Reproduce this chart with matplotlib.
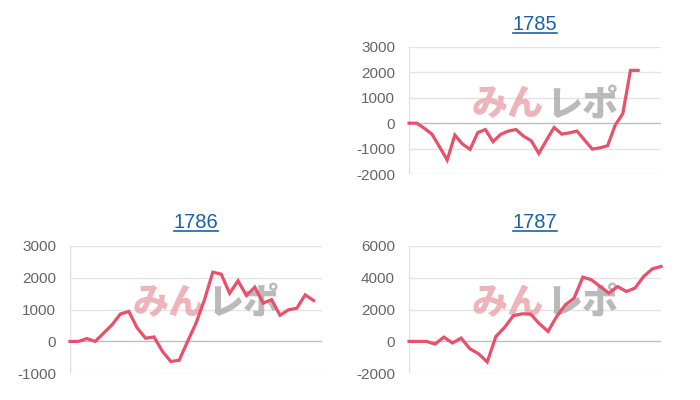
import matplotlib.pyplot as plt
from matplotlib.lines import Line2D

plt.rcParams['font.family'] = ['Liberation Sans', 'DejaVu Sans']

# daily balance per year
titles = ['1785', '1786', '1787']
vals_1785 = [0, 0, -200, -430, -930, -1450, -470, -820, -1030, -370, -250, -730, -440,
             -310, -250, -510, -690, -1190, -670, -170, -430, -380, -310, -670, -1020,
             -970, -890, -80, 380, 2080, 2080]
vals_1786 = [0, 0, 90, 0, 260, 520, 860, 940, 420, 100, 140, -310, -630, -590, 0, 570,
             1300, 2170, 2110, 1510, 1900, 1440, 1700, 1200, 1310, 820, 990, 1040, 1460, 1280]
vals_1787 = [0, 0, 0, -170, 270, -100, 210, -460, -770, -1290, 310, 880, 1610, 1730, 1710,
             1110, 630, 1570, 2300, 2710, 4030, 3860, 3440, 3030, 3440, 3130, 3340, 4070,
             4550, 4700]
n_labels = [34, 31, 30]
y_ranges = [(-2000, 3000), (-1000, 3000), (-2000, 6000)]
y_steps = [1000, 1000, 2000]

line_color = '#e8506c'
title_color = '#1a62a8'

fig = plt.figure(figsize=(7, 4), dpi=100)
positions = [[0.5843, 0.565, 0.36, 0.3175],
             [0.1, 0.0667, 0.36, 0.319],
             [0.5843, 0.0667, 0.36, 0.319]]
all_vals = [vals_1785, vals_1786, vals_1787]

axes = []
for pos, title, vals, n, yr, step in zip(positions, titles, all_vals, n_labels, y_ranges, y_steps):
    ax = fig.add_axes(pos)
    ticks = list(range(yr[0], yr[1] + 1, step))
    for t in ticks:
        ax.axhline(t, color='#bdbdbd' if t == 0 else '#e4e4e4', lw=1, zorder=1)
    ax.axvline(0, color='#e0e0e0', lw=1, zorder=1)

    # watermark
    ax.text(0.535, 0.55, 'みん', transform=ax.transAxes, ha='right', va='center',
            fontsize=26, fontweight='black', color='#e9a3aa', alpha=0.8,
            family=['Noto Sans CJK JP'], zorder=2)
    ax.text(0.545, 0.55, 'レポ', transform=ax.transAxes, ha='left', va='center',
            fontsize=26, fontweight='black', color='#a9a9a9', alpha=0.8,
            family=['Noto Sans CJK JP'], zorder=2)

    ax.plot(range(len(vals)), vals, color=line_color, lw=2.3, zorder=3,
            solid_joinstyle='miter', clip_on=False)
    ax.set_xlim(0, n - 1)
    ax.set_ylim(yr)
    ax.set_yticks(ticks)
    ax.set_yticklabels([str(t) for t in ticks])
    ax.tick_params(axis='y', length=0, pad=10, labelsize=11, labelcolor='#666666')
    ax.set_xticks([])
    for s in ax.spines.values():
        s.set_visible(False)
    ax.text(0.5, 1 + 23 / 127, title, transform=ax.transAxes, ha='center', va='center',
            fontsize=14.5, color=title_color)
    axes.append(ax)

# underline the titles
fig.canvas.draw()
renderer = fig.canvas.get_renderer()
W, H = fig.bbox.width, fig.bbox.height
for ax in axes:
    t = ax.texts[-1]
    bb = t.get_window_extent(renderer)
    y = (bb.y0 + 1) / H
    fig.add_artist(Line2D([bb.x0 / W, bb.x1 / W], [y, y], color=title_color, lw=1.2))

fig.savefig('out.png', dpi=100)
